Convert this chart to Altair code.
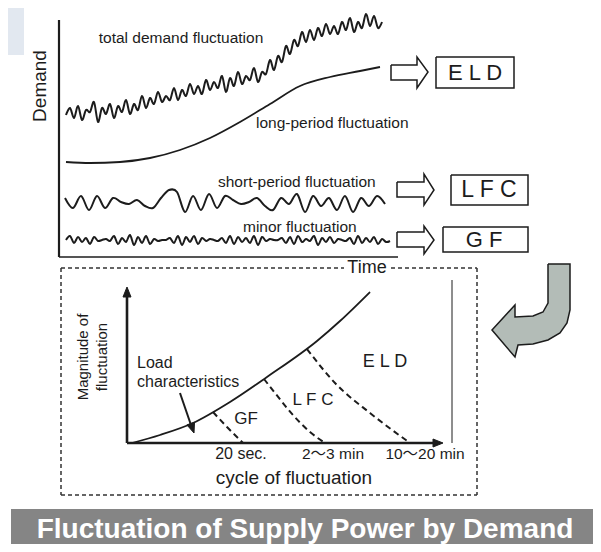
import altair as alt
import pandas as pd

W, H = 585, 536          # plot area (page margin 8px)
XD = [8, 8 + W]          # canvas coordinates = reference pixels
YD = [8, 8 + H]

FONT = "Liberation Sans, Noto Sans CJK JP"
INK = "#1c1c1c"

# ---------------- top panel: demand fluctuations ----------------
total_x0, total_step = 66, 4
total_y = [115, 108, 118, 106, 120, 110, 112, 102, 122, 108, 114, 104, 118, 106, 112, 100,
           114, 104, 110, 96, 108, 98, 104, 92, 102, 96, 100, 88, 100, 90, 96, 84,
           94, 86, 94, 80, 90, 82, 88, 76, 92, 78, 86, 72, 84, 76, 80, 68,
           82, 72, 74, 60, 70, 56, 62, 46, 54, 40, 46, 32, 42, 30, 40, 28,
           36, 24, 34, 26, 34, 22, 30, 18, 32, 22, 28, 14, 26, 16, 28, 22]

long_x = [66, 90, 120, 150, 180, 210, 240, 270, 300, 330, 360, 380]
long_y = [162, 163, 162, 158, 150, 138, 122, 104, 86, 77, 71, 67]

short_x0, short_step = 65, 8
short_y = [198, 208, 196, 210, 196, 208, 198, 202, 204, 200, 206, 208, 198, 190, 192, 212,
           196, 210, 194, 208, 196, 200, 204, 202, 198, 206, 210, 198, 204, 194, 212, 196,
           206, 198, 210, 196, 212, 198, 206, 196, 204]

minor_x0, minor_step = 66, 4
minor_y = [240, 236, 243, 237, 242, 238, 244, 237, 241, 240, 239, 241, 236, 244, 238, 242,
           235, 245, 237, 243, 236, 244, 239, 241, 240, 240, 238, 243, 236, 245, 237, 242,
           236, 244, 238, 241, 239, 240, 241, 238, 243, 236, 244, 237, 242, 238, 243, 236,
           245, 237, 241, 239, 240, 240, 238, 243, 237, 244, 236, 242, 239, 241, 236, 245,
           238, 242, 237, 243, 239, 240, 241, 238, 244, 236, 243, 238, 242, 237, 244, 239,
           242, 241]

# ---------------- bottom panel: magnitude vs cycle ----------------
load_curve_x = [132, 160, 193, 230, 267, 317, 340, 370]
load_curve_y = [443, 435, 423, 402, 377, 341, 321, 292]
gf_bound_x = [213, 227, 243]
gf_bound_y = [412, 427, 443]
lfc_bound_x = [264, 275, 293, 310, 325]
lfc_bound_y = [379, 393, 415, 432, 443]
eld_bound_x = [307, 335, 370, 410]
eld_bound_y = [349, 383, 413, 443]

# ---------------- shapes (outlines) ----------------
shapes = {
    "arrow_eld": ([391, 417, 417, 428, 417, 417, 391, 391], [65, 65, 57, 72, 88, 80, 80, 65]),
    "arrow_lfc": ([397, 424, 424, 434, 424, 424, 397, 397], [182, 182, 174, 190, 205, 197, 197, 182]),
    "arrow_gf": ([397, 424, 424, 434, 424, 424, 397, 397], [232, 232, 226, 240, 254, 247, 247, 232]),
    "box_eld": ([436, 514, 514, 436, 436], [57, 57, 88, 88, 57]),
    "box_lfc": ([451, 528, 528, 451, 451], [175, 175, 205, 205, 175]),
    "box_gf": ([443, 528, 528, 443, 443], [227, 227, 252, 252, 227]),
}
big_arrow_x = [548, 570, 570, 567, 560, 548, 533, 518, 515, 492, 515, 515, 533, 543, 548, 548]
big_arrow_y = [264, 264, 310, 323, 333, 340, 344, 345, 357, 330, 305, 317, 316, 312, 303, 264]
heads = {
    "yaxis": ([123, 127, 131, 123], [297, 287, 297, 297]),
    "xaxis": ([433, 443, 433, 433], [439, 443, 447, 439]),
    "load": ([186.9, 194, 194.5, 186.9], [424.9, 433, 422.3, 424.9]),
}

# ---------------- straight rules ----------------
rules = [  # x, y, x2, y2, width
    (59, 20, 59, 257, 2.2),
    (59, 257, 398, 257, 1.6),
    (127, 290, 127, 443, 2.6),
    (127, 443, 436, 443, 2.6),
    (452, 280, 452, 443, 1.0),
    (180, 393, 192, 428, 2.0),
]
dashed = [
    (61, 268, 344, 268), (391, 268, 477, 268),
    (61, 268, 61, 495), (477, 268, 477, 495), (61, 495, 477, 495),
]

# ---------------- texts ----------------
texts_center = [  # x, y, text, size, angle
    (40, 86, "Demand", 19, 270),
    (181, 38, "total demand fluctuation", 15.5, 0),
    (367, 268, "Time", 18, 0),
    (475, 73, "E L D", 22, 0),
    (489, 190, "L F C", 23, 0),
    (484, 240, "G F", 22, 0),
    (83, 357, "Magnitude of", 15, 270),
    (102, 357, "fluctuation", 15, 270),
    (246, 419, "GF", 17, 0),
    (313, 400, "L F C", 17, 0),
    (385, 362, "E L D", 18, 0),
    (241, 454, "20 sec.", 16, 0),
    (333, 454, "2〜3 min", 15.5, 0),
    (425, 454, "10〜20 min", 15.5, 0),
    (294, 478, "cycle of fluctuation", 19, 0),
]
texts_left = [
    (256, 123, "long-period fluctuation", 15.5),
    (218, 182, "short-period fluctuation", 15.5),
    (243, 227, "minor fluctuation", 15.5),
    (137, 363, "Load", 16),
    (137, 382, "characteristics", 16),
]
banner_title = "Fluctuation of Supply Power by Demand"

# ---------------- build tables ----------------
def series(name, xs, ys):
    return pd.DataFrame({"x": xs, "y": ys, "s": name, "o": range(len(xs))})

waves = pd.concat([
    series("total", [total_x0 + total_step * i for i in range(len(total_y))], total_y),
    series("short", [short_x0 + short_step * i for i in range(len(short_y))], short_y),
    series("minor", [minor_x0 + minor_step * i for i in range(len(minor_y))], minor_y),
])
smooth = pd.concat([
    series("long", long_x, long_y),
    series("load", load_curve_x, load_curve_y),
])
bounds = pd.concat([
    series("gf", gf_bound_x, gf_bound_y),
    series("lfc", lfc_bound_x, lfc_bound_y),
    series("eld", eld_bound_x, eld_bound_y),
])
outline = pd.concat([series(k, v[0], v[1]) for k, v in shapes.items()])
headdf = pd.concat([series(k, v[0], v[1]) for k, v in heads.items()])
bigdf = series("big", big_arrow_x, big_arrow_y)
rule_df = pd.DataFrame(rules, columns=["x", "y", "x2", "y2", "w"])
dash_df = pd.DataFrame(dashed, columns=["x", "y", "x2", "y2"])
tc = pd.DataFrame(texts_center, columns=["x", "y", "t", "size", "angle"])
tl = pd.DataFrame(texts_left, columns=["x", "y", "t", "size"])
panel = pd.DataFrame({"x": [8], "y": [8], "x2": [24], "y2": [55]})
banner = pd.DataFrame({"x": [11], "y": [509], "x2": [593], "y2": [544]})
banner_t = pd.DataFrame({"x": [305], "y": [537.5], "t": [banner_title]})

xs = alt.Scale(domain=XD)
ys = alt.Scale(domain=YD, reverse=True)
X = alt.X("x:Q", scale=xs, axis=None)
Y = alt.Y("y:Q", scale=ys, axis=None)
O = alt.Order("o:Q")

layers = [
    alt.Chart(panel).mark_rect(color="#e2e8f0").encode(X, Y, x2="x2:Q", y2="y2:Q"),
    alt.Chart(banner).mark_rect(color="#858585").encode(X, Y, x2="x2:Q", y2="y2:Q"),
    alt.Chart(waves).mark_line(color=INK, strokeWidth=2, interpolate="cardinal").encode(X, Y, O, detail="s:N"),
    alt.Chart(smooth).mark_line(color=INK, strokeWidth=1.8, interpolate="monotone").encode(X, Y, O, detail="s:N"),
    alt.Chart(bounds).mark_line(color=INK, strokeWidth=2, strokeDash=[6, 4], interpolate="monotone").encode(X, Y, O, detail="s:N"),
    alt.Chart(outline).mark_line(color=INK, strokeWidth=1.5, fill="white").encode(X, Y, O, detail="s:N"),
    alt.Chart(bigdf).mark_line(color=INK, strokeWidth=1.5, fill="#b3bcb7").encode(X, Y, O),
    alt.Chart(headdf).mark_line(color=INK, strokeWidth=1, fill=INK).encode(X, Y, O, detail="s:N"),
    alt.Chart(rule_df).mark_rule(color=INK).encode(X, Y, x2="x2:Q", y2="y2:Q",
                                                     strokeWidth=alt.StrokeWidth("w:Q", scale=None)),
    alt.Chart(dash_df).mark_rule(color="#333333", strokeWidth=1.5, strokeDash=[4, 3]).encode(X, Y, x2="x2:Q", y2="y2:Q"),
    alt.Chart(tc).mark_text(font=FONT, color=INK, align="center", baseline="middle").encode(
        X, Y, text="t:N", size=alt.Size("size:Q", scale=None), angle=alt.Angle("angle:Q", scale=None)),
    alt.Chart(tl).mark_text(font=FONT, color=INK, align="left", baseline="middle").encode(
        X, Y, text="t:N", size=alt.Size("size:Q", scale=None)),
    alt.Chart(banner_t).mark_text(font="Liberation Sans", fontWeight="bold", fontSize=28, color="white",
                                  align="center", baseline="alphabetic").encode(X, Y, text="t:N"),
]

chart = alt.layer(*layers).properties(
    width=W, height=H, padding=0, autosize=alt.AutoSizeParams(type="none"),
    background="white",
).configure_view(stroke=None)

chart.save("out.html", embed_options={"renderer": "svg", "actions": False})
